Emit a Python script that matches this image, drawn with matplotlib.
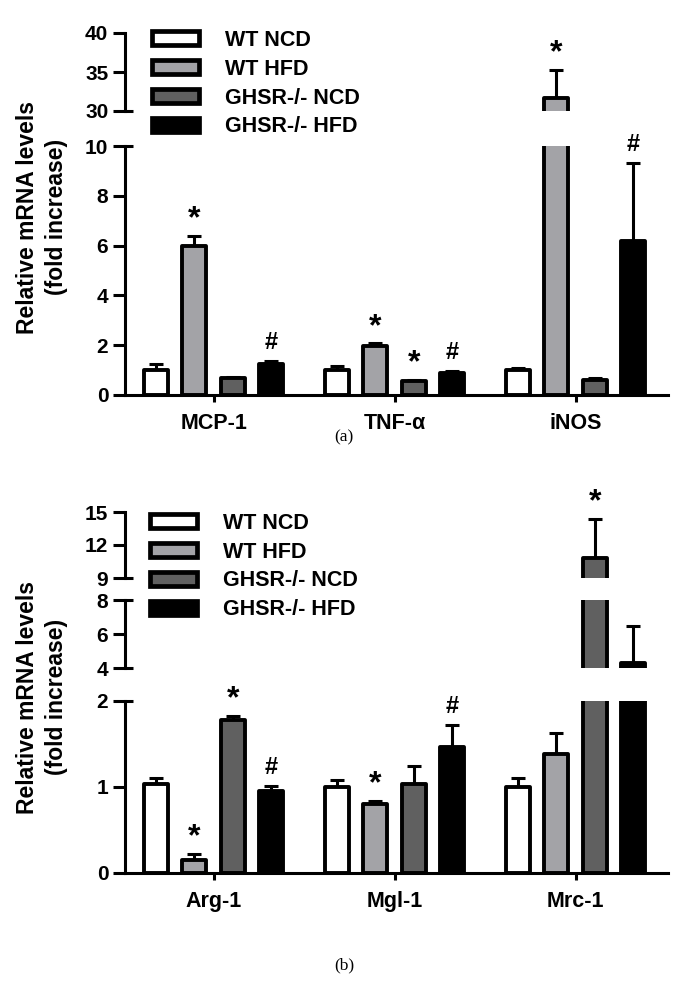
"""Relative mRNA levels, WT vs GHSR-/- on NCD/HFD, two panels with broken y axes."""

import numpy as np
import matplotlib
matplotlib.use("Agg")
import matplotlib.pyplot as plt
from matplotlib.patches import Patch

plt.rcParams["font.family"] = ["Liberation Sans", "DejaVu Sans"]
plt.rcParams["font.weight"] = "bold"

# ---- data -------------------------------------------------------------
series = ["WT NCD", "WT HFD", "GHSR-/- NCD", "GHSR-/- HFD"]
colors = ["#ffffff", "#a3a3a7", "#606060", "#000000"]

genes_a = ["MCP-1", "TNF-\u03b1", "iNOS"]
vals_a = [
    [1.0, 1.0, 1.0],      # WT NCD
    [6.0, 1.95, 31.7],    # WT HFD
    [0.68, 0.55, 0.62],   # GHSR-/- NCD
    [1.25, 0.88, 6.2],    # GHSR-/- HFD
]
errs_a = [
    [0.25, 0.15, 0.07],
    [0.4, 0.12, 3.6],
    [0.03, 0.05, 0.06],
    [0.13, 0.08, 3.1],
]
sig_a = [
    ["", "", ""],
    ["*", "*", "*"],
    ["", "*", ""],
    ["#", "#", "#"],
]
segments_a = [(0, 10, [0, 2, 4, 6, 8, 10]), (30, 40, [30, 35, 40])]

genes_b = ["Arg-1", "Mgl-1", "Mrc-1"]
vals_b = [
    [1.03, 1.0, 1.0],
    [0.15, 0.8, 1.38],
    [1.78, 1.03, 10.8],
    [0.95, 1.47, 4.3],
]
errs_b = [
    [0.08, 0.08, 0.11],
    [0.07, 0.04, 0.25],
    [0.05, 0.21, 3.6],
    [0.06, 0.25, 2.2],
]
sig_b = [
    ["", "", ""],
    ["*", "*", ""],
    ["*", "", "*"],
    ["#", "#", ""],
]
segments_b = [(0, 2, [0, 1, 2]), (4, 8, [4, 6, 8]), (9, 15, [9, 12, 15])]

# ---- layout (pixels of a 689x990 canvas) ------------------------------
W, H = 689, 990
AX_L, AX_R = 125, 668
LW = 2.2
FS = 15


def fx(px):
    return px / W


def fy(py):
    return 1 - py / H


def draw_panel(fig, seg_pix, segments, genes, vals, errs, sig, legend_xy, ylab_y):
    """seg_pix: list of (top_px, bottom_px) matching segments."""
    groups = np.arange(len(genes))
    step = 0.2127
    width = 0.133
    axes = []
    for k, ((lo, hi, ticks), (top, bot)) in enumerate(zip(segments, seg_pix)):
        ax = fig.add_axes([fx(AX_L), fy(bot), fx(AX_R) - fx(AX_L), (bot - top) / H])
        ax.set_ylim(lo, hi)
        ax.set_xlim(-0.49, 2.51)
        ax.set_yticks(ticks)
        ax.patch.set_alpha(0)
        for s in ("top", "right"):
            ax.spines[s].set_visible(False)
        ax.spines["left"].set_linewidth(LW)
        ax.tick_params(axis="y", length=9, width=LW, pad=3, labelsize=FS)
        if k == 0:
            ax.spines["bottom"].set_linewidth(LW)
            ax.set_xticks(groups)
            ax.set_xticklabels(genes, fontsize=FS + 0.5)
            ax.tick_params(axis="x", length=5, width=LW, pad=8)
        else:
            ax.spines["bottom"].set_visible(False)
            ax.set_xticks([])
        # inward break ticks at ends that sit next to a break
        d = 8 / (AX_R - AX_L)
        ends = []
        if k > 0:
            ends.append(lo)
        if k < len(segments) - 1:
            ends.append(hi)
        for yv in ends:
            ax.plot([0, d], [yv, yv], transform=ax.get_yaxis_transform(),
                    color="k", lw=LW, clip_on=False, solid_capstyle="butt")

        for i in range(len(series)):
            x = groups + (i - 1.5) * step
            ax.errorbar(x, vals[i], yerr=[np.zeros(len(genes)), errs[i]], fmt="none",
                        ecolor="k", elinewidth=LW, capsize=4.7, capthick=LW, zorder=1)
            bars = ax.bar(x, vals[i], width=width, color=colors[i], edgecolor="k",
                          linewidth=2.8, zorder=2)
            for b in bars:
                b.set_joinstyle("round")
        axes.append(ax)

    # significance marks, put in the segment holding the error-bar top
    for i in range(len(series)):
        for g in groups:
            s = sig[i][g]
            if not s:
                continue
            top = vals[i][g] + errs[i][g]
            for ax, (lo, hi, _) in zip(axes, segments):
                if lo <= top <= hi:
                    x = g + (i - 1.5) * step
                    if s == "*":
                        ax.annotate(s, (x, top), xytext=(0, 1), textcoords="offset points",
                                    ha="center", va="bottom", fontsize=23,
                                    annotation_clip=False)
                    else:
                        ax.annotate(s, (x, top), xytext=(0, 5), textcoords="offset points",
                                    ha="center", va="bottom", fontsize=17,
                                    annotation_clip=False)
                    break

    handles = [Patch(facecolor=c, edgecolor="k", linewidth=3.4, joinstyle="round")
               for c in colors]
    fig.legend(handles, series, loc="upper left",
               bbox_to_anchor=(fx(legend_xy[0]), fy(legend_xy[1])),
               frameon=False, fontsize=FS + 0.5, handlelength=2.2, handleheight=0.62,
               labelspacing=0.36, handletextpad=1.2, borderpad=0, borderaxespad=0)

    fig.text(fx(42), fy(ylab_y), "Relative mRNA levels\n(fold increase)", rotation=90,
             ha="center", va="center", fontsize=16.5, linespacing=1.3)
    return axes


fig = plt.figure(figsize=(W / 100, H / 100), dpi=100)

draw_panel(fig, [(146, 395), (33, 111)], segments_a, genes_a, vals_a, errs_a, sig_a,
           legend_xy=(152, 30), ylab_y=217)
draw_panel(fig, [(701, 873), (600, 668), (512, 578)], segments_b, genes_b, vals_b, errs_b,
           sig_b, legend_xy=(150, 513), ylab_y=697)

fig.text(fx(344), fy(437), "(a)", ha="center", va="center", fontsize=12.5,
         family="Liberation Serif", weight="normal")
fig.text(fx(344), fy(965), "(b)", ha="center", va="center", fontsize=12.5,
         family="Liberation Serif", weight="normal")

fig.savefig("out.png", dpi=100)
